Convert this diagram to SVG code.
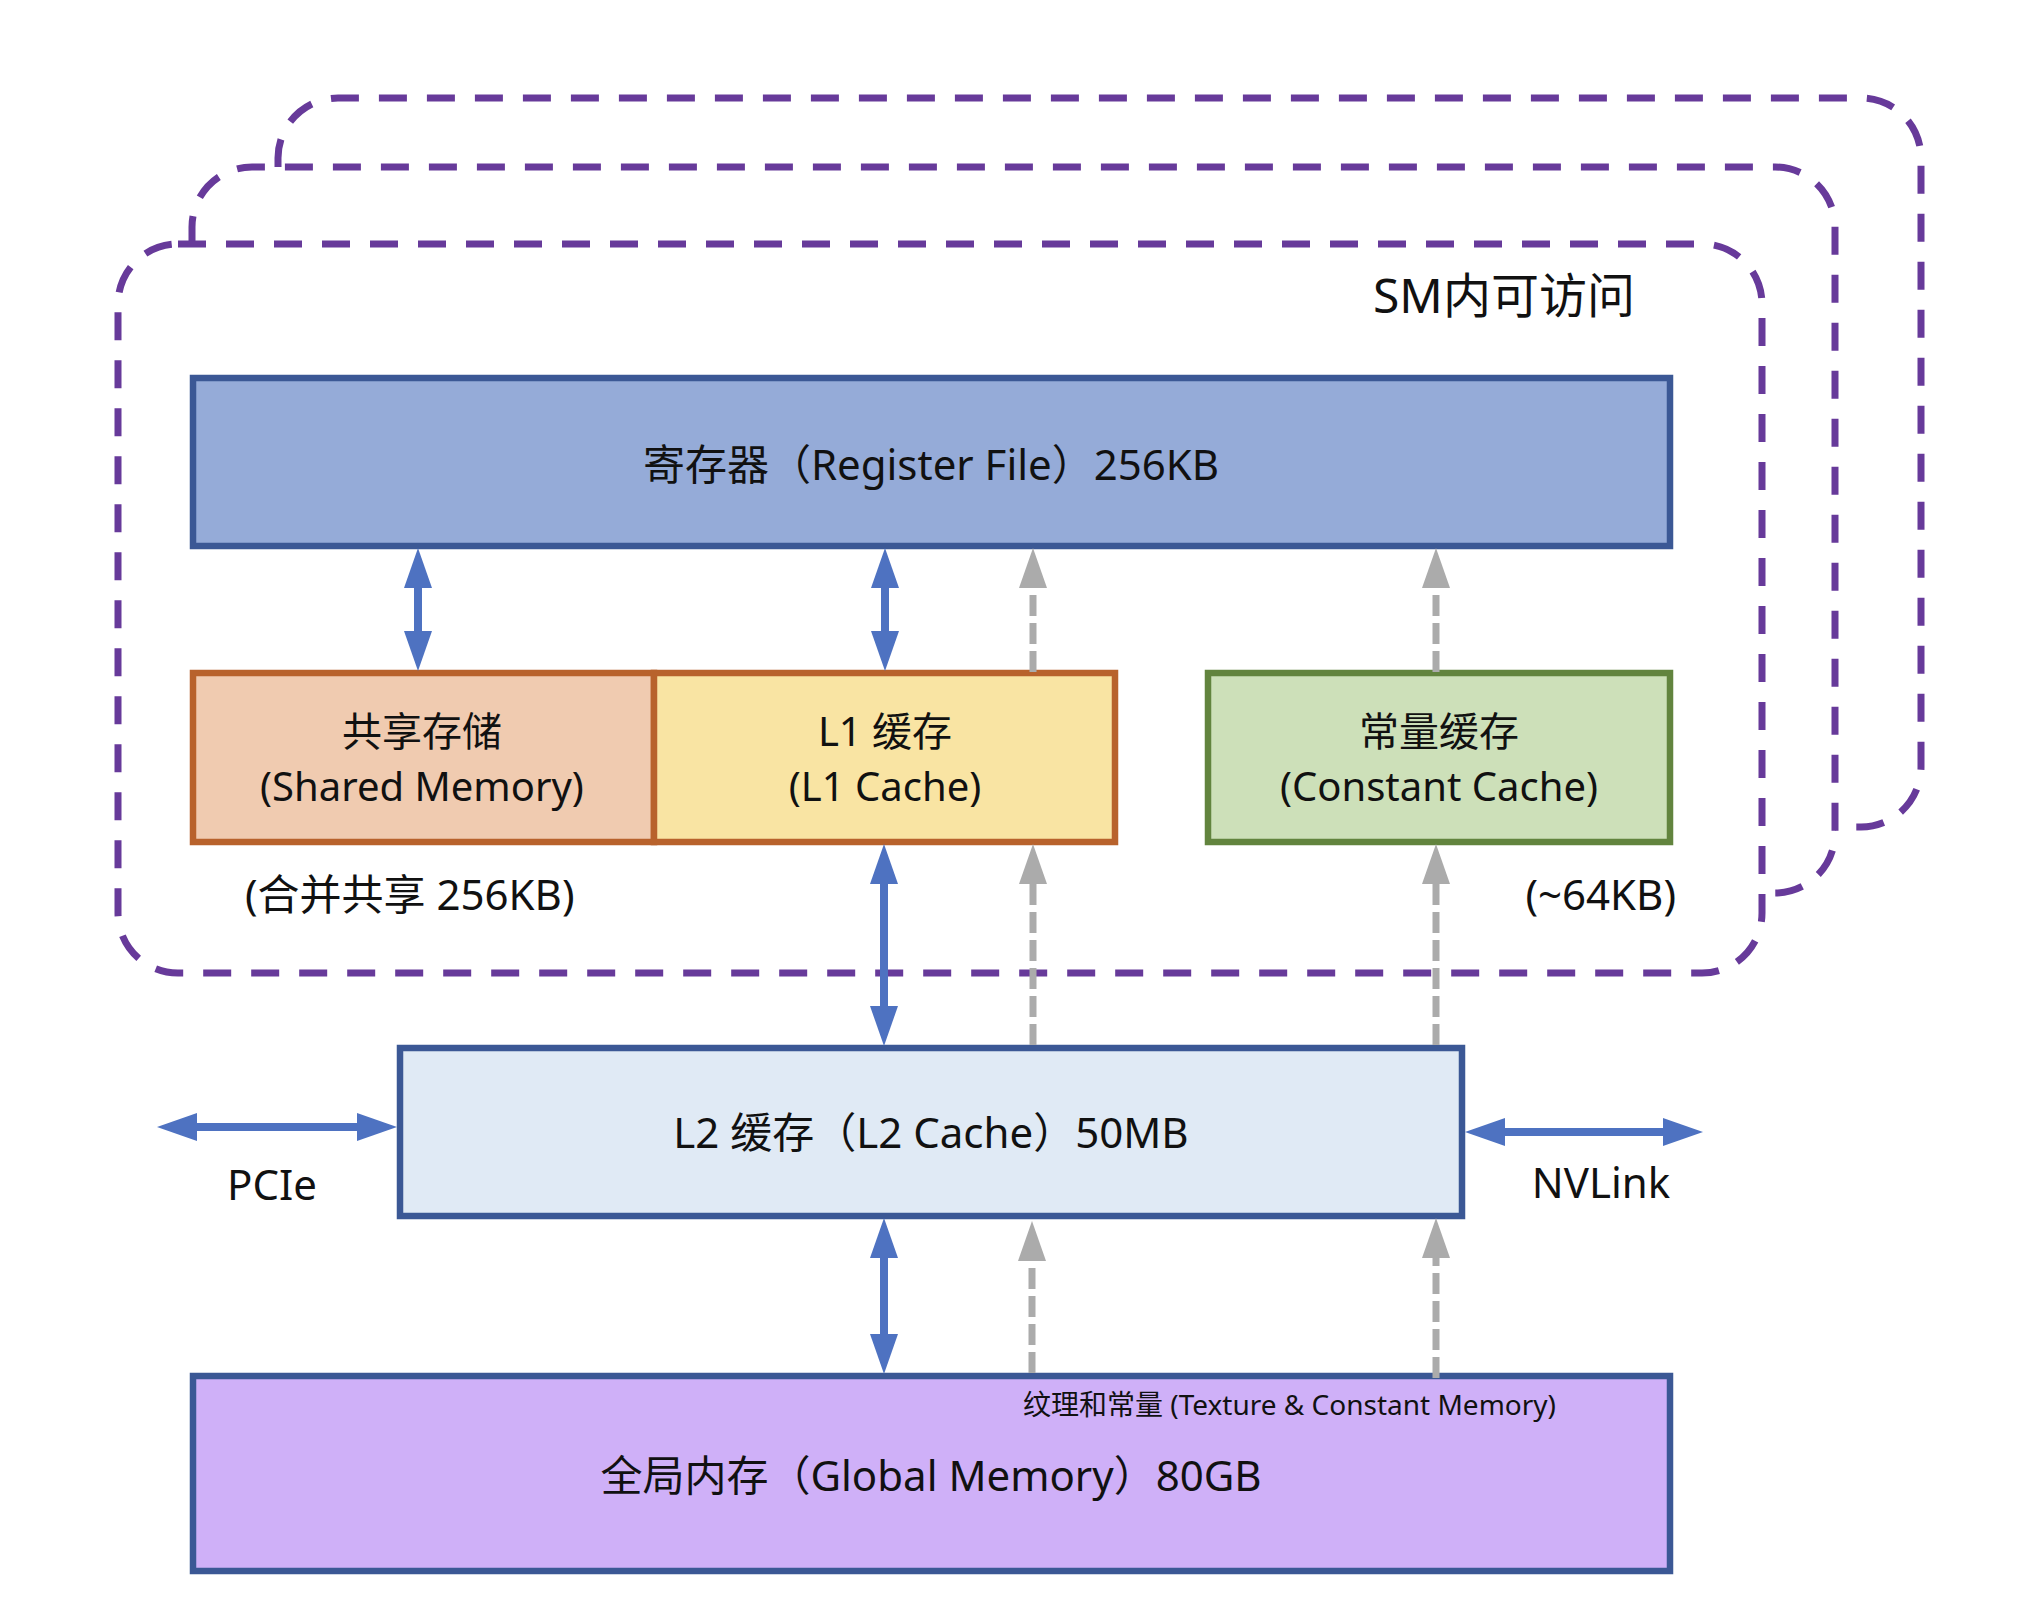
<svg xmlns="http://www.w3.org/2000/svg" width="2036" height="1618" viewBox="0 0 2036 1618">
  <style>
    .frame { fill: none; stroke: #673a9a; stroke-width: 7; stroke-dasharray: 28 20; }
    .lbl { font-family: 'Noto Sans', 'Noto Sans CJK SC', sans-serif; font-size: 42px; fill: #111111; }
    .two { font-size: 40px; }
    .mid { text-anchor: middle; }
    .small { font-size: 28px; }
    .big { font-size: 48px; }
    .blue { stroke: #4e72c1; stroke-width: 8; fill: none; }
    .gray { stroke: #ababab; stroke-width: 7; fill: none; stroke-dasharray: 21 7; }
    .boxblue { stroke: #3b5895; stroke-width: 6.5; }
    .boxorange { stroke: #b8622c; stroke-width: 6.5; }
    .boxgreen { stroke: #62843e; stroke-width: 6.5; }
  </style>
  <defs>
    <marker id="hb" markerUnits="userSpaceOnUse" markerWidth="40" markerHeight="28" refX="0" refY="14" orient="auto-start-reverse" viewBox="0 0 40 28">
      <path d="M0,0 L40,14 L0,28 Z" fill="#4e72c1"/>
    </marker>
    <marker id="hg" markerUnits="userSpaceOnUse" markerWidth="40" markerHeight="28" refX="0" refY="14" orient="auto" viewBox="0 0 40 28">
      <path d="M0,0 L40,14 L0,28 Z" fill="#ababab"/>
    </marker>
  </defs>
  <rect width="2036" height="1618" fill="#ffffff"/>

  <g id="sm-frames">
    <path id="sm-back" class="frame" d="M278,167 V158 A60,60 0 0 1 338,98 H1861 A60,60 0 0 1 1921,158 V767 A60,60 0 0 1 1861,827 H1835"/>
    <path id="sm-middle" class="frame" d="M192,244 V227 A60,60 0 0 1 252,167 H1775 A60,60 0 0 1 1835,227 V833 A60,60 0 0 1 1775,893 H1762"/>
    <rect id="sm-front" class="frame" x="118" y="244" width="1644" height="729" rx="60" ry="60"/>
    <text class="lbl big" x="1373" y="313">SM内可访问</text>
  </g>

  <g id="register-file">
    <rect class="boxblue" x="193" y="378" width="1477" height="168" fill="#95abd8"/>
    <text class="lbl mid" x="931" y="480">寄存器（Register File）256KB</text>
  </g>

  <g id="shared-memory">
    <rect class="boxorange" x="193" y="673" width="461" height="169" fill="#f0cbb0"/>
    <text class="lbl two mid" x="422" y="746">共享存储</text>
    <text class="lbl two mid" x="422" y="801">(Shared Memory)</text>
  </g>

  <g id="l1-cache">
    <rect class="boxorange" x="654" y="673" width="461" height="169" fill="#f9e4a3"/>
    <text class="lbl two mid" x="885" y="746">L1 缓存</text>
    <text class="lbl two mid" x="885" y="801">(L1 Cache)</text>
  </g>

  <text id="shared-note" class="lbl" x="245" y="910">(合并共享 256KB)</text>

  <g id="constant-cache">
    <rect class="boxgreen" x="1208" y="673" width="462" height="169" fill="#cde0b9"/>
    <text class="lbl two mid" x="1439" y="746">常量缓存</text>
    <text class="lbl two mid" x="1439" y="801">(Constant Cache)</text>
  </g>

  <text id="constant-note" class="lbl" x="1676" y="910" text-anchor="end">(~64KB)</text>

  <g id="l2-cache">
    <rect class="boxblue" x="400" y="1048" width="1062" height="168" fill="#e0eaf5"/>
    <text class="lbl mid" x="931" y="1148">L2 缓存（L2 Cache）50MB</text>
  </g>

  <g id="global-memory">
    <rect class="boxblue" x="193" y="1376" width="1477" height="195" fill="#cfb0f8"/>
    <text class="lbl small" x="1023" y="1415">纹理和常量 (Texture &amp; Constant Memory)</text>
    <text class="lbl mid" x="931" y="1491">全局内存（Global Memory）80GB</text>
  </g>

  <g id="connectors">
    <line class="blue" x1="418" y1="588" x2="418" y2="631" marker-start="url(#hb)" marker-end="url(#hb)"/>
    <line class="blue" x1="885" y1="588" x2="885" y2="631" marker-start="url(#hb)" marker-end="url(#hb)"/>
    <line class="blue" x1="884" y1="884" x2="884" y2="1006" marker-start="url(#hb)" marker-end="url(#hb)"/>
    <line class="blue" x1="884" y1="1258" x2="884" y2="1334" marker-start="url(#hb)" marker-end="url(#hb)"/>
    <line class="blue" x1="197" y1="1127" x2="357" y2="1127" marker-start="url(#hb)" marker-end="url(#hb)"/>
    <line class="blue" x1="1505" y1="1132" x2="1663" y2="1132" marker-start="url(#hb)" marker-end="url(#hb)"/>

    <line class="gray" x1="1033" y1="672" x2="1033" y2="588" marker-end="url(#hg)"/>
    <line class="gray" x1="1436" y1="672" x2="1436" y2="588" marker-end="url(#hg)"/>
    <line class="gray" x1="1033" y1="1045" x2="1033" y2="884" marker-end="url(#hg)"/>
    <line class="gray" x1="1436" y1="1045" x2="1436" y2="884" marker-end="url(#hg)"/>
    <line class="gray" x1="1032" y1="1373" x2="1032" y2="1261" marker-end="url(#hg)"/>
    <line class="gray" x1="1436" y1="1378" x2="1436" y2="1258" marker-end="url(#hg)"/>
  </g>
  <g id="link-labels">
    <text class="lbl mid" x="272" y="1200">PCIe</text>
    <text class="lbl mid" x="1601" y="1198">NVLink</text>
  </g>
</svg>
